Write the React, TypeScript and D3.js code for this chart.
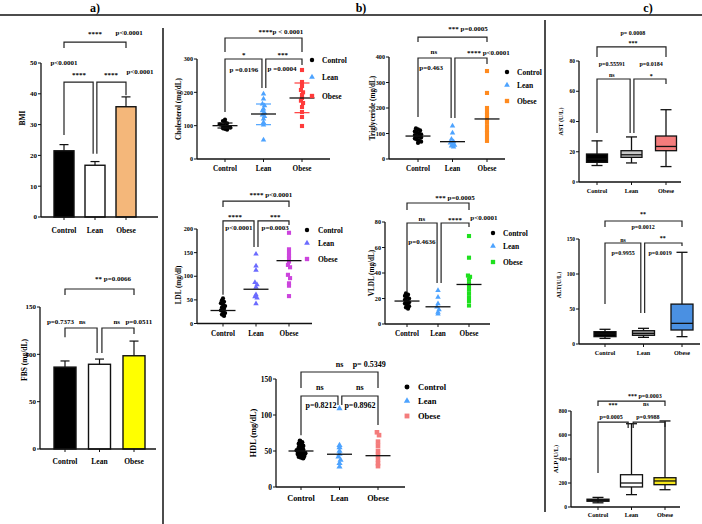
import * as d3 from 'd3';

const groups = ['Control', 'Lean', 'Obese'];

// a) bar charts: group mean and top of error bar
const bmiMean = [21.5, 16.8, 35.8];
const bmiUpper = [23.5, 18.0, 39.0];
const fbsMean = [86.5, 89.5, 98.5];
const fbsUpper = [93, 95, 114];

// b) individual values per group
const cholControl = [118, 114, 110, 107, 104, 102, 100, 98, 96, 94, 92, 90, 88];
const cholLean = [195, 180, 165, 160, 150, 145, 138, 132, 128, 120, 110, 102, 57];
const cholObese = [267, 231, 219, 207, 200, 192, 183, 175, 168, 156, 141, 126, 99];
const cholMean = [100, 135, 183];
const cholSd = [[93, 108], [103, 165], [139, 228]];

const tgControl = [120, 116, 112, 108, 104, 100, 97, 94, 90, 87, 84, 80, 76, 72, 68, 63];
const tgLean = [130, 102, 78, 68, 63, 58, 54, 51, 47];
const tgObese = [345, 259, 200, 185, 173, 161, 145, 129, 114, 102, 86, 71];
const tgMean = [90, 68, 157];

const ldlControl = [53, 49, 46, 43, 40, 37, 34, 31, 28, 25, 22, 19, 16];
const ldlLean = [147, 122, 113, 87, 82, 77, 61, 57, 54, 42];
const ldlObese = [192, 157, 150, 143, 138, 131, 124, 119, 103, 96, 85, 80, 58];
const ldlMean = [27.5, 72.5, 133];

const vldlControl = [24, 23, 22, 21, 20, 19, 18, 17, 16, 15, 14, 13, 12];
const vldlLean = [26.4, 21, 16, 13.3, 11.2, 9.3, 8];
const vldlObese = [69, 52, 38, 37, 35, 32, 29.5, 27, 24, 21, 18, 14.5];
const vldlMean = [18, 13.5, 31];

const hdlControl = [64, 62, 60, 58, 57, 55, 54, 52, 51, 50, 49, 48, 47, 46, 45, 44, 43, 42, 41, 40];
const hdlLean = [109, 58, 55, 50, 46, 42, 37.5, 33, 28];
const hdlObese = [76, 72, 63, 57, 50, 44.5, 38.5, 33, 29];
const hdlMean = [50, 45.5, 43.5];

// c) box plots: [min, q1, median, q3, max]
const astBox = [[10.9, 13, 15.2, 18.5, 27.2], [12.6, 16.3, 18, 20.7, 29.8], [10.2, 20.7, 23.5, 30.4, 47.8]];
const altBox = [[8, 10.5, 14.3, 17.6, 21], [9.5, 12.4, 15.2, 19, 22.4], [10.5, 20, 29.5, 57, 131]];
const alpBox = [[35, 48, 55, 65, 80], [103, 167, 200, 269, 694], [144, 186, 217, 244, 717]];

type Frame = {
  left: number; right: number; bottom: number; top: number; max: number;
  ticks: number[]; cats: [number, number]; label: string; labelX: number; labelY?: number;
  tickFs: number; catFs: number; catDy: number; annFs: number;
};
type Bracket = { a: number; b: number; y: number; la: number; lb: number };
type Note = [string, number, number];

function scales(f: Frame) {
  const y = d3.scaleLinear().domain([0, f.max]).range([f.bottom, f.top]);
  const x = d3.scaleLinear().domain([0, 2]).range(f.cats);
  return { x, y };
}

function Axes({ f }: { f: Frame }) {
  const { x, y } = scales(f);
  const cy = f.labelY ?? (f.bottom + f.top) / 2;
  return (
    <g>
      <line x1={f.left} x2={f.left} y1={f.bottom} y2={y(f.max)} stroke="#111" strokeWidth={1.3} />
      <line x1={f.left} x2={f.right} y1={f.bottom} y2={f.bottom} stroke="#111" strokeWidth={1.3} />
      {f.ticks.map((t) => (
        <g key={t}>
          <line x1={f.left - 3} x2={f.left} y1={y(t)} y2={y(t)} stroke="#111" strokeWidth={1} />
          <text x={f.left - 4} y={y(t)} dy="0.35em" textAnchor="end" fontSize={f.tickFs}>{t}</text>
        </g>
      ))}
      {groups.map((g, i) => (
        <g key={g}>
          <line x1={x(i)} x2={x(i)} y1={f.bottom} y2={f.bottom + 3} stroke="#111" strokeWidth={1} />
          <text x={x(i)} y={f.bottom + f.catDy} textAnchor="middle" fontSize={f.catFs}>{g}</text>
        </g>
      ))}
      <text transform={`translate(${f.labelX},${cy}) rotate(-90)`} textAnchor="middle" dy="0.35em" fontSize={f.catFs}>
        {f.label}
      </text>
    </g>
  );
}

function Notes({ f, brackets, notes }: { f: Frame; brackets: Bracket[]; notes: Note[] }) {
  const { x, y } = scales(f);
  return (
    <g>
      {brackets.map((b, i) => (
        <path key={i} d={`M${x(b.a)},${y(b.la)}V${y(b.y)}H${x(b.b)}V${y(b.lb)}`} fill="none" stroke="#222" strokeWidth={1.2} />
      ))}
      {notes.map(([t, cx, cy], i) => (
        <text key={i} x={x(cx)} y={y(cy)} textAnchor="middle" fontSize={f.annFs}>{t}</text>
      ))}
    </g>
  );
}

function BarPanel({ f, means, upper, fills, barW }: { f: Frame; means: number[]; upper: number[]; fills: string[]; barW: number }) {
  const { x, y } = scales(f);
  return (
    <g>
      {means.map((m, i) => (
        <g key={i}>
          <line x1={x(i)} x2={x(i)} y1={y(m)} y2={y(upper[i])} stroke="#111" strokeWidth={1.2} />
          <line x1={x(i) - 4.5} x2={x(i) + 4.5} y1={y(upper[i])} y2={y(upper[i])} stroke="#111" strokeWidth={1.2} />
          <rect x={x(i) - barW / 2} y={y(m)} width={barW} height={f.bottom - y(m)} fill={fills[i]} stroke="#111" strokeWidth={1.4} />
        </g>
      ))}
      <Axes f={f} />
    </g>
  );
}

// GraphPad-like horizontal spreading of values that land on the same row
function swarm(vals: number[], y: (v: number) => number, bin: number, gap: number) {
  const rows = d3.groups(vals, (v) => Math.round(y(v) / bin));
  return rows.flatMap(([, vs]) => vs.map((v, j) => ({ v, dx: (j - (vs.length - 1) / 2) * gap })));
}

const shapes = [d3.symbolCircle, d3.symbolTriangle, d3.symbolSquare];
const shapeSize = [14, 13, 17];

function DotPanel({ f, sets, means, colors, sd, legend, k = 1 }: {
  f: Frame; sets: number[][]; means: number[]; colors: string[]; sd?: number[][];
  legend: { mx: number; tx: number; ys: number[]; fs: number }; k?: number;
}) {
  const { x, y } = scales(f);
  return (
    <g>
      <Axes f={f} />
      {sets.map((vals, i) => {
        const path = d3.symbol(shapes[i], shapeSize[i] * k)() as string;
        return (
          <g key={i} fill={colors[i]}>
            {swarm(vals, y, 3.5, 2.1).map((p, j) => (
              <path key={j} d={path} transform={`translate(${x(i) + p.dx},${y(p.v)})`} />
            ))}
          </g>
        );
      })}
      {means.map((m, i) => (
        <g key={i}>
          <line x1={x(i) - 12.5} x2={x(i) + 12.5} y1={y(m)} y2={y(m)} stroke="#111" strokeWidth={1.3} />
          {sd && sd[i].map((s, j) => (
            <line key={j} x1={x(i) - 7.5} x2={x(i) + 7.5} y1={y(s)} y2={y(s)} stroke={i === 0 ? '#111' : colors[i]} strokeWidth={1.2} />
          ))}
        </g>
      ))}
      {groups.map((g, i) => (
        <g key={g}>
          <path d={d3.symbol(shapes[i], shapeSize[i] * k * 1.1)() as string} transform={`translate(${legend.mx},${legend.ys[i]})`} fill={colors[i]} />
          <text x={legend.tx} y={legend.ys[i]} dy="0.35em" fontSize={legend.fs}>{g}</text>
        </g>
      ))}
    </g>
  );
}

function BoxPanel({ f, stats, fills, boxW }: { f: Frame; stats: number[][]; fills: string[]; boxW: number }) {
  const { x, y } = scales(f);
  return (
    <g>
      {stats.map(([mn, q1, md, q3, mx], i) => {
        const cx = x(i);
        return (
          <g key={i} stroke="#111" strokeWidth={1.3}>
            <line x1={cx} x2={cx} y1={y(mn)} y2={y(mx)} />
            <line x1={cx - 5.5} x2={cx + 5.5} y1={y(mn)} y2={y(mn)} />
            <line x1={cx - 5.5} x2={cx + 5.5} y1={y(mx)} y2={y(mx)} />
            <rect x={cx - boxW / 2} y={y(q3)} width={boxW} height={y(q1) - y(q3)} fill={fills[i]} />
            <line x1={cx - boxW / 2} x2={cx + boxW / 2} y1={y(md)} y2={y(md)} />
          </g>
        );
      })}
      <Axes f={f} />
    </g>
  );
}

const aFs = { tickFs: 7, catFs: 7.5, annFs: 7 };
const bFs = { tickFs: 6.2, catFs: 7.2, annFs: 7 };
const cFs = { tickFs: 5.5, catFs: 6.2, annFs: 6 };

const bmiF: Frame = { left: 41, right: 158, bottom: 217, top: 63, max: 50, ticks: [0, 10, 20, 30, 40, 50], cats: [64, 126], label: 'BMI', labelX: 22, labelY: 118, catDy: 16, ...aFs };
const fbsF: Frame = { left: 40, right: 156, bottom: 449, top: 307, max: 150, ticks: [0, 50, 100, 150], cats: [65, 134], label: 'FBS (mg/dL)', labelX: 24, labelY: 360, catDy: 15, ...aFs };
const cholF: Frame = { left: 197, right: 330, bottom: 159, top: 59, max: 300, ticks: [0, 100, 200, 300], cats: [225, 302], label: 'Cholesterol (mg/dL)', labelX: 178, catDy: 12, ...bFs };
const tgF: Frame = { left: 389, right: 505, bottom: 159, top: 57, max: 400, ticks: [0, 100, 200, 300, 400], cats: [418, 487], label: 'Triglyceride (mg/dL)', labelX: 372, catDy: 12, ...bFs };
const ldlF: Frame = { left: 197, right: 312, bottom: 323.5, top: 229, max: 200, ticks: [0, 50, 100, 150, 200], cats: [223, 289], label: 'LDL (mg/dl)', labelX: 178, labelY: 285, catDy: 12, ...bFs };
const vldlF: Frame = { left: 385, right: 490, bottom: 324, top: 222, max: 80, ticks: [0, 20, 40, 60, 80], cats: [407, 469], label: 'VLDL (mg/dL)', labelX: 371, catDy: 12, ...bFs };
const hdlF: Frame = { left: 276, right: 405, bottom: 487, top: 379, max: 150, ticks: [0, 50, 100, 150], cats: [301, 378], label: 'HDL (mg/dL)', labelX: 253, catDy: 14, tickFs: 7.5, catFs: 8.3, annFs: 8 };
const astF: Frame = { left: 579, right: 681, bottom: 182, top: 61, max: 80, ticks: [0, 20, 40, 60, 80], cats: [597, 666], label: 'AST (U/L)', labelX: 561, catDy: 10.5, ...cFs };
const altF: Frame = { left: 579, right: 700, bottom: 344, top: 239, max: 150, ticks: [0, 50, 100, 150], cats: [605, 682], label: 'ALT(U/L)', labelX: 559, labelY: 285, catDy: 11, ...cFs };
const alpF: Frame = { left: 571, right: 680, bottom: 507, top: 411, max: 800, ticks: [0, 200, 400, 600, 800], cats: [598, 665], label: 'ALP (U/L)', labelX: 556, catDy: 9.5, ...cFs };

export default function App() {
  return (
    <svg
      width={702}
      height={524}
      style={{ position: 'absolute', left: 0, top: 0, background: '#fff' }}
      fontFamily="'Liberation Serif', 'Times New Roman', serif"
      fontWeight="bold"
    >
      <rect width={702} height={524} fill="#fff" />
      <line x1={0} x2={702} y1={15} y2={15} stroke="#111" strokeWidth={1.5} />
      <line x1={163} x2={163} y1={28} y2={524} stroke="#111" strokeWidth={1.5} />
      <line x1={545} x2={545} y1={20} y2={512} stroke="#111" strokeWidth={1.5} />
      <text x={95} y={12} fontSize={12} textAnchor="middle">a)</text>
      <text x={361} y={12} fontSize={12} textAnchor="middle">b)</text>
      <text x={648} y={12} fontSize={12} textAnchor="middle">c)</text>

      <BarPanel f={bmiF} means={bmiMean} upper={bmiUpper} fills={['#000', '#fff', '#f4b77a']} barW={20} />
      <Notes
        f={bmiF}
        brackets={[
          { a: 0, b: 2, y: 56.8, la: 54.9, lb: 54.9 },
          { a: 0, b: 0.94, y: 43.8, la: 26.6, lb: 20.5 },
          { a: 1.06, b: 2, y: 43.8, la: 20.5, lb: 39.5 },
        ]}
        notes={[['****', 1.0, 58.8], ['p<0.0001', 2.1, 59.2], ['p<0.0001', 0, 49.5], ['****', 0.48, 45.5], ['****', 1.52, 45.5], ['p<0.0001', 2.45, 46.4]]}
      />

      <BarPanel f={fbsF} means={fbsMean} upper={fbsUpper} fills={['#000', '#fff', '#ffff00']} barW={22} />
      <Notes
        f={fbsF}
        brackets={[
          { a: 0, b: 2, y: 169, la: 162.7, lb: 162.7 },
          { a: 0, b: 0.93, y: 127.8, la: 118, lb: 101.4 },
          { a: 1.07, b: 2, y: 127.8, la: 101.4, lb: 121.5 },
        ]}
        notes={[['** p=0.0066', 1.39, 177.5], ['p=0.7373', -0.13, 132], ['ns', 0.5, 132], ['ns', 1.5, 132], ['p=0.0511', 2.14, 132]]}
      />

      <DotPanel f={cholF} sets={[cholControl, cholLean, cholObese]} means={cholMean} sd={cholSd}
        colors={['#000', '#4da3ff', '#ff3b3b']} legend={{ mx: 312, tx: 322, ys: [60, 77, 96], fs: 7.5 }} />
      <Notes
        f={cholF}
        brackets={[
          { a: 0, b: 2, y: 363, la: 321, lb: 321 },
          { a: 0, b: 0.96, y: 300, la: 141, lb: 213 },
          { a: 1.06, b: 2, y: 300, la: 213, lb: 282 },
        ]}
        notes={[['****p < 0.0001', 1.45, 375], ['*', 0.49, 305], ['***', 1.5, 305], ['p =0.0196', 0.49, 261], ['p =0.0004', 1.48, 264]]}
      />

      <DotPanel f={tgF} sets={[tgControl, tgLean, tgObese]} means={tgMean}
        colors={['#000', '#4da3ff', '#ff8a1e']} legend={{ mx: 507, tx: 517, ys: [72, 85, 101], fs: 7.5 }} />
      <Notes
        f={tgF}
        brackets={[
          { a: 0, b: 2, y: 478, la: 459, lb: 459 },
          { a: 0, b: 0.96, y: 396, la: 165, lb: 161 },
          { a: 1.07, b: 2, y: 396, la: 161, lb: 373 },
        ]}
        notes={[['*** p=0.0005', 1.45, 502], ['ns', 0.46, 412], ['**** p<0.0001', 2.04, 408], ['p=0.463', 0.38, 349]]}
      />

      <DotPanel f={ldlF} sets={[ldlControl, ldlLean, ldlObese]} means={ldlMean}
        colors={['#000', '#6b6bff', '#cc44dd']} legend={{ mx: 307, tx: 318, ys: [230, 243, 259], fs: 7.5 }} />
      <Notes
        f={ldlF}
        brackets={[
          { a: 0, b: 2, y: 259, la: 246.6, lb: 246.6 },
          { a: 0, b: 0.94, y: 217, la: 60.6, lb: 162 },
          { a: 1.06, b: 2, y: 217, la: 162, lb: 208.5 },
        ]}
        notes={[['**** p<0.0001', 1.45, 268], ['****', 0.36, 222], ['***', 1.58, 222], ['p<0.0001', 0.48, 198], ['p=0.0003', 1.58, 198]]}
      />

      <DotPanel f={vldlF} sets={[vldlControl, vldlLean, vldlObese]} means={vldlMean}
        colors={['#000', '#4da3ff', '#1ee01e']} legend={{ mx: 493, tx: 503, ys: [233, 246, 262], fs: 7.5 }} />
      <Notes
        f={vldlF}
        brackets={[
          { a: 0, b: 2, y: 94.9, la: 89.4, lb: 89.4 },
          { a: 0, b: 0.97, y: 79.2, la: 25.1, lb: 32.2 },
          { a: 1.1, b: 2, y: 79.2, la: 32.2, lb: 76.1 },
        ]}
        notes={[['*** p=0.0005', 1.55, 97], ['ns', 0.48, 80.8], ['****', 1.55, 80], ['p<0.0001', 2.48, 81.6], ['p=0.4636', 0.48, 62.7]]}
      />

      <DotPanel f={hdlF} sets={[hdlControl, hdlLean, hdlObese]} means={hdlMean} k={1.25}
        colors={['#000', '#4da3ff', '#f47c7c']} legend={{ mx: 407, tx: 418, ys: [387, 401, 416], fs: 8.5 }} />
      <Notes
        f={hdlF}
        brackets={[
          { a: 0, b: 2, y: 159.7, la: 137.5, lb: 137.5 },
          { a: 0, b: 0.96, y: 126.4, la: 72, lb: 114 },
          { a: 1.06, b: 2, y: 126.4, la: 114, lb: 86 },
        ]}
        notes={[['ns', 1.0, 167], ['p= 0.5349', 1.77, 167], ['ns', 0.49, 135], ['ns', 1.53, 135], ['p=0.8212', 0.52, 110], ['p=0.8962', 1.53, 110]]}
      />

      <BoxPanel f={astF} stats={astBox} fills={['#000', '#c8c8c8', '#f47c7c']} boxW={21} />
      <Notes
        f={astF}
        brackets={[
          { a: 0, b: 2, y: 89.3, la: 82.6, lb: 82.6 },
          { a: 0, b: 0.96, y: 68.1, la: 32.4, lb: 32.4 },
          { a: 1.07, b: 2, y: 68.1, la: 32.4, lb: 64.8 },
        ]}
        notes={[['p= 0.0008', 1.04, 97.2], ['***', 1.04, 90.4], ['p=0.55591', 0.43, 76.7], ['ns', 0.43, 69.4], ['p=0.0184', 1.57, 76.7], ['*', 1.57, 68.8]]}
      />

      <BoxPanel f={altF} stats={altBox} fills={['#000', '#aaaaaa', '#4a90e2']} boxW={22} />
      <Notes
        f={altF}
        brackets={[
          { a: 0, b: 2, y: 175.7, la: 167, lb: 167 },
          { a: 0, b: 0.93, y: 144.3, la: 57, lb: 44.3 },
          { a: 1.03, b: 2, y: 144.3, la: 44.3, lb: 140 },
        ]}
        notes={[['**', 0.99, 182.4], ['p=0.0012', 0.99, 164], ['ns', 0.47, 146.4], ['**', 1.5, 149], ['p=0.9955', 0.47, 127], ['p=0.0019', 1.43, 127]]}
      />

      <BoxPanel f={alpF} stats={alpBox} fills={['#000', '#fff', '#f5e61a']} boxW={22} />
      <Notes
        f={alpF}
        brackets={[
          { a: 0, b: 2, y: 883, la: 842, lb: 842 },
          { a: 0, b: 0.9, y: 708, la: 283, lb: 658 },
          { a: 1.05, b: 2, y: 708, la: 658, lb: 667 },
        ]}
        notes={[['*** p=0.0003', 1.4, 905], ['***', 0.45, 833], ['ns', 1.43, 842], ['p=0.0005', 0.39, 733], ['p=0.9988', 1.49, 733]]}
      />
    </svg>
  );
}
